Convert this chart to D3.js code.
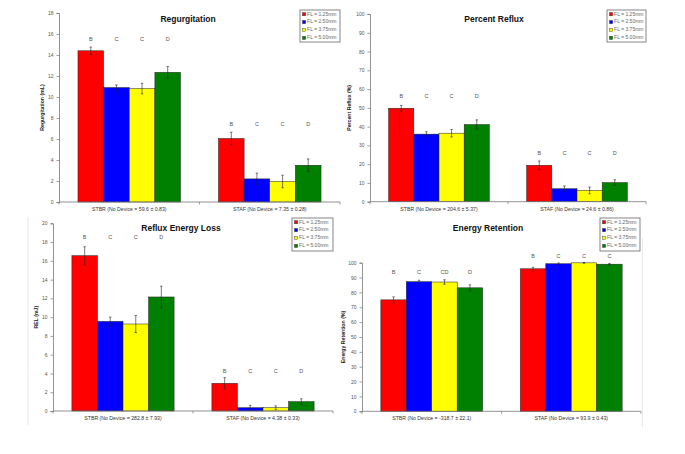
<!DOCTYPE html>
<html><head><meta charset="utf-8">
<script src="https://cdn.jsdelivr.net/npm/d3@7"></script>
<style>
html,body{margin:0;padding:0;background:#fff;}
svg{display:block;font-family:"Liberation Sans",Arial,sans-serif;}
</style></head>
<body>
<svg id="c" width="685" height="454"></svg>
<script>
// ---------- DATA ----------
const seriesNames = ["FL = 1.25mm", "FL = 2.50mm", "FL = 3.75mm", "FL = 5.00mm"];
const seriesColors = ["#ff0000", "#0000ff", "#ffff00", "#008000"];
const groupKeys = ["STBR", "STAF"];

// Regurgitation (mL)
const regurgTitle = "Regurgitation";
const regurgYLabel = "Regurgitation (mL)";
const regurgCategories = ["STBR (No Device = 59.6 ± 0.83)", "STAF (No Device = 7.35 ± 0.28)"];
const regurgSTBR = [14.4, 10.9, 10.8, 12.35];
const regurgSTAF = [6.05, 2.2, 1.95, 3.5];
const regurgErrSTBR = [0.35, 0.25, 0.5, 0.55];
const regurgErrSTAF = [0.6, 0.55, 0.6, 0.6];
const regurgLettersSTBR = ["B", "C", "C", "D"];
const regurgLettersSTAF = ["B", "C", "C", "D"];
const regurgLetterLevel = [15.5, 7.4];
const regurgTicks = [0, 2, 4, 6, 8, 10, 12, 14, 16, 18];

// Percent Reflux (%)
const refluxTitle = "Percent Reflux";
const refluxYLabel = "Percent Reflux (%)";
const refluxCategories = ["STBR (No Device = 204.6 ± 5.37)", "STAF (No Device = 24.6 ± 0.86)"];
const refluxSTBR = [49.8, 36.0, 36.5, 41.1];
const refluxSTAF = [19.4, 6.9, 6.0, 10.2];
const refluxErrSTBR = [1.5, 1.3, 2.0, 2.5];
const refluxErrSTAF = [2.3, 1.5, 1.8, 1.5];
const refluxLettersSTBR = ["B", "C", "C", "D"];
const refluxLettersSTAF = ["B", "C", "C", "D"];
const refluxLetterLevel = [55.8, 25.5];
const refluxTicks = [0, 10, 20, 30, 40, 50, 60, 70, 80, 90, 100];

// Reflux Energy Loss (mJ)
const relTitle = "Reflux Energy Loss";
const relYLabel = "REL (mJ)";
const relCategories = ["STBR (No Device = 282.8 ± 7.93)", "STAF (No Device = 4.38 ± 0.33)"];
const relSTBR = [16.55, 9.55, 9.27, 12.15];
const relSTAF = [2.95, 0.35, 0.35, 1.0];
const relErrSTBR = [0.95, 0.45, 0.9, 1.15];
const relErrSTAF = [0.6, 0.25, 0.2, 0.3];
const relLettersSTBR = ["B", "C", "C", "D"];
const relLettersSTAF = ["B", "C", "C", "D"];
const relLetterLevel = [18.5, 4.2];
const relTicks = [0, 2, 4, 6, 8, 10, 12, 14, 16, 18, 20];

// Energy Retention (%)
const erTitle = "Energy Retention";
const erYLabel = "Energy Retention (%)";
const erCategories = ["STBR (No Device = -318.7 ± 22.1)", "STAF (No Device = 93.9 ± 0.43)"];
const erSTBR = [75.0, 87.2, 87.0, 83.1];
const erSTAF = [95.9, 99.3, 99.9, 99.0];
const erErrSTBR = [2.0, 1.0, 1.5, 2.0];
const erErrSTAF = [1.0, 0.5, 0.3, 0.5];
const erLettersSTBR = ["B", "C", "CD", "D"];
const erLettersSTAF = ["B", "C", "C", "C"];
const erLetterLevel = [93.5, 104];
const erTicks = [0, 10, 20, 30, 40, 50, 60, 70, 80, 90, 100];

// ---------- DRAW ----------
const svg = d3.select("#c");

function panel(cfg) {
  const g = svg.append("g");
  const y = d3.scaleLinear().domain([0, cfg.ticks[cfg.ticks.length - 1]]).range([cfg.yBottom, cfg.yTop]);
  const x0 = d3.scaleBand().domain(groupKeys).range([cfg.xLeft, cfg.xRight]).paddingInner(0.27).paddingOuter(0.135);
  const x1 = d3.scaleBand().domain(d3.range(4)).range([0, x0.bandwidth()]);
  const groups = [
    {key: "STBR", vals: cfg.stbr, errs: cfg.errStbr, letters: cfg.lettersStbr, lvl: cfg.letterLevel[0]},
    {key: "STAF", vals: cfg.staf, errs: cfg.errStaf, letters: cfg.lettersStaf, lvl: cfg.letterLevel[1]}
  ];

  // bars
  groups.forEach(gr => {
    const gg = g.append("g").attr("transform", `translate(${x0(gr.key)},0)`);
    gg.selectAll("rect").data(gr.vals).join("rect")
      .attr("x", (d, i) => x1(i)).attr("width", x1.bandwidth())
      .attr("y", d => y(d)).attr("height", d => y(0) - y(d))
      .attr("fill", (d, i) => seriesColors[i])
      .attr("stroke", "#222").attr("stroke-width", 0.5);
    // error bars
    gr.vals.forEach((v, i) => {
      const cx = x1(i) + x1.bandwidth() / 2;
      const e = gr.errs[i];
      gg.append("line").attr("x1", cx).attr("x2", cx).attr("y1", y(v - e)).attr("y2", y(v + e))
        .attr("stroke", "#222").attr("stroke-width", 0.6);
      [v - e, v + e].forEach(t => gg.append("line").attr("x1", cx - 1.2).attr("x2", cx + 1.2)
        .attr("y1", y(t)).attr("y2", y(t)).attr("stroke", "#222").attr("stroke-width", 0.6));
      gg.append("text").attr("x", cx).attr("y", y(gr.lvl)).attr("text-anchor", "middle")
        .attr("dominant-baseline", "middle").attr("font-size", 5.5).attr("fill", "#555")
        .text(gr.letters[i]);
    });
  });

  // y axis
  const ya = g.append("g").attr("transform", `translate(${cfg.xLeft},0)`)
    .call(d3.axisLeft(y).tickValues(cfg.ticks).tickSize(2.5).tickPadding(3).tickFormat(d3.format("d")));
  ya.select(".domain").attr("stroke", "#777").attr("stroke-width", 0.8);
  ya.selectAll(".tick line").attr("stroke", "#777").attr("stroke-width", 0.7);
  ya.selectAll(".tick text").attr("font-size", 5).attr("fill", "#555").attr("font-family", "Liberation Sans, Arial, sans-serif");

  // x axis
  const xa = g.append("g").attr("transform", `translate(0,${cfg.yBottom})`);
  xa.append("line").attr("x1", cfg.xLeft).attr("x2", cfg.xRight).attr("stroke", "#777").attr("stroke-width", 0.8);
  const bounds = [cfg.xLeft, (cfg.xLeft + cfg.xRight) / 2, cfg.xRight];
  xa.selectAll("line.t").data(bounds).join("line").attr("class", "t")
    .attr("x1", d => d).attr("x2", d => d).attr("y1", 0).attr("y2", 2.5)
    .attr("stroke", "#777").attr("stroke-width", 0.7);
  xa.selectAll("text").data(groupKeys).join("text")
    .attr("x", (d) => x0(d) + x0.bandwidth() / 2).attr("y", cfg.catDy)
    .attr("text-anchor", "middle").attr("font-size", 5.2).attr("fill", "#333")
    .text((d, i) => cfg.categories[i]);

  // y label
  g.append("text").attr("transform", `translate(${cfg.yLabelX},${(cfg.yTop + cfg.yBottom) / 2}) rotate(-90)`)
    .attr("text-anchor", "middle").attr("font-size", 5.2).attr("font-weight", "bold").attr("fill", "#222")
    .text(cfg.yLabel);

  // title
  g.append("text").attr("x", cfg.titleX).attr("y", cfg.titleY).attr("text-anchor", "middle")
    .attr("dominant-baseline", "middle").attr("font-size", 8.5).attr("font-weight", "bold").attr("fill", "#111")
    .text(cfg.title);

  // legend
  const lg = g.append("g").attr("transform", `translate(${cfg.legend[0]},${cfg.legend[1]})`);
  lg.append("rect").attr("width", cfg.legend[2]).attr("height", cfg.legend[3])
    .attr("fill", "#fff").attr("stroke", "#666").attr("stroke-width", 0.8);
  const rows = lg.selectAll("g").data(seriesNames).join("g")
    .attr("transform", (d, i) => `translate(2.5,${4.2 + i * 7.9})`);
  rows.append("rect").attr("x", 0).attr("y", -1.6).attr("width", 3.2).attr("height", 3.2)
    .attr("fill", (d, i) => seriesColors[i]).attr("stroke", "#333").attr("stroke-width", 0.4);
  rows.append("text").attr("x", 4.6).attr("y", 0).attr("dominant-baseline", "middle")
    .attr("font-size", 5).attr("fill", "#666").text(d => d);
}

panel({title: regurgTitle, yLabel: regurgYLabel, categories: regurgCategories,
  stbr: regurgSTBR, staf: regurgSTAF, errStbr: regurgErrSTBR, errStaf: regurgErrSTAF,
  lettersStbr: regurgLettersSTBR, lettersStaf: regurgLettersSTAF, letterLevel: regurgLetterLevel, ticks: regurgTicks,
  xLeft: 59, xRight: 340, yTop: 13, yBottom: 202, titleX: 188, titleY: 20, yLabelX: 44, catDy: 9,
  legend: [300, 10, 40, 32]});

panel({title: refluxTitle, yLabel: refluxYLabel, categories: refluxCategories,
  stbr: refluxSTBR, staf: refluxSTAF, errStbr: refluxErrSTBR, errStaf: refluxErrSTAF,
  lettersStbr: refluxLettersSTBR, lettersStaf: refluxLettersSTAF, letterLevel: refluxLetterLevel, ticks: refluxTicks,
  xLeft: 370, xRight: 646, yTop: 14, yBottom: 201.7, titleX: 494, titleY: 20, yLabelX: 351, catDy: 9,
  legend: [607, 10, 39, 32]});

panel({title: relTitle, yLabel: relYLabel, categories: relCategories,
  stbr: relSTBR, staf: relSTAF, errStbr: relErrSTBR, errStaf: relErrSTAF,
  lettersStbr: relLettersSTBR, lettersStaf: relLettersSTAF, letterLevel: relLetterLevel, ticks: relTicks,
  xLeft: 53, xRight: 333, yTop: 223.3, yBottom: 411, titleX: 181, titleY: 229, yLabelX: 38, catDy: 9,
  legend: [292, 218, 41, 33]});

panel({title: erTitle, yLabel: erYLabel, categories: erCategories,
  stbr: erSTBR, staf: erSTAF, errStbr: erErrSTBR, errStaf: erErrSTAF,
  lettersStbr: erLettersSTBR, lettersStaf: erLettersSTAF, letterLevel: erLetterLevel, ticks: erTicks,
  xLeft: 362, xRight: 641, yTop: 262.7, yBottom: 411.3, titleX: 488, titleY: 229, yLabelX: 345, catDy: 9,
  legend: [600, 218, 40, 33]});

// faint frame edges of the pasted panels
svg.append("line").attr("x1", 28).attr("x2", 28).attr("y1", 217).attr("y2", 425).attr("stroke", "#e2e2e2").attr("stroke-width", 0.8);
svg.append("line").attr("x1", 642.5).attr("x2", 642.5).attr("y1", 238).attr("y2", 427).attr("stroke", "#e2e2e2").attr("stroke-width", 0.8);
</script>
</body></html>
